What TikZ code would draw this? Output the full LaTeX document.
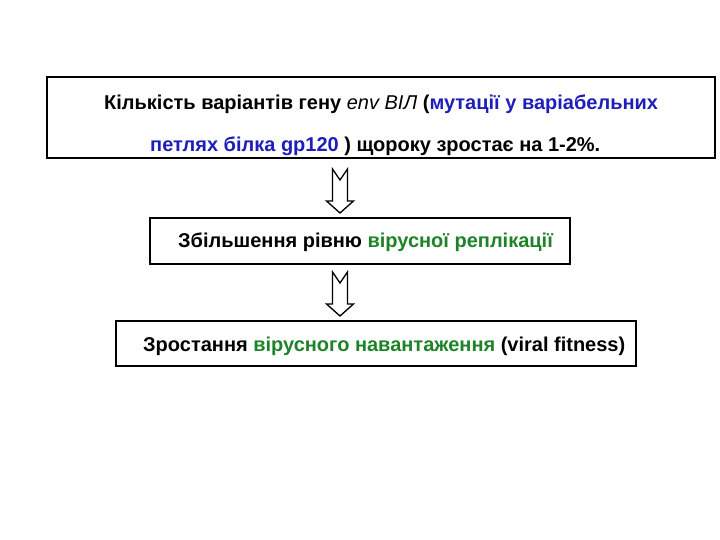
\documentclass[tikz,border=0pt]{standalone}
\usepackage{fontspec}
\setmainfont{Liberation Sans}
\definecolor{txtblue}{RGB}{30,30,185}
\definecolor{txtgreen}{RGB}{30,130,40}
\tikzset{
  box/.style={draw,line width=2pt,minimum width=#1,minimum height=45pt,inner sep=0pt},
  txt/.style={anchor=west,inner sep=0pt,font=\fontsize{20}{24}\selectfont\bfseries},
  pics/downarrow/.style={code={
    \draw[line width=1.3pt,fill=white] (-7.5,0) -- (0,11) -- (7.5,0) -- (7.5,32) -- (13.5,32)
      -- (0,44) -- (-13.5,32) -- (-7.5,32) -- cycle;
  }}
}
\begin{document}
\begin{tikzpicture}[x=1pt,y=-1pt]
            \useasboundingbox (0,0) rectangle (720,540);
            % Boxes
            \node[box=668pt,minimum height=81pt] (count) at (381,117.5) {};
            \node[box=420pt] (repl) at (360,241) {};
            \node[box=520pt] (load) at (376,343) {};

            % Labels
            \node[txt] (countA) at (104,104) {Кількість варіантів гену \textit{\mdseries env ВІЛ} (\textcolor{txtblue}{мутації у варіабельних}};
            \node[txt] (countB) at (150,146) {\textcolor{txtblue}{петлях білка gp120} ) щороку зростає на 1-2\%.};
            \node[txt] (replT) at (178,242) {Збільшення рівню \textcolor{txtgreen}{вірусної реплікації}};
            \node[txt] (loadT) at (143,346) {Зростання \textcolor{txtgreen}{вірусного навантаження} (viral fitness)};

            % Arrows
            \pic at (340,169) {downarrow};
            \pic at (340,272) {downarrow};
        \end{tikzpicture}
\end{document}
